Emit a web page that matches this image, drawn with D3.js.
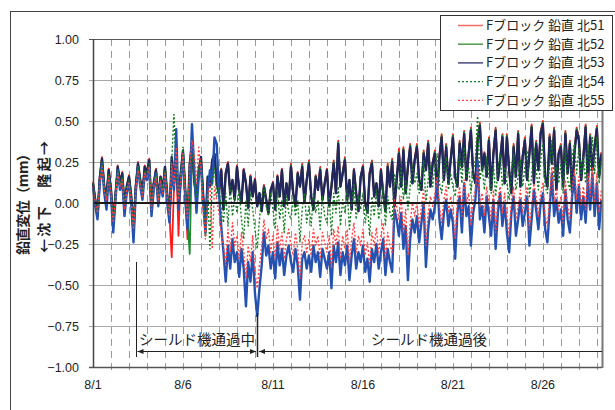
<!DOCTYPE html>
<html>
<head>
<meta charset="utf-8">
<script src="https://cdn.jsdelivr.net/npm/d3@7"></script>
<style>
  body { margin: 0; background: #fff; }
  svg { display: block; font-family: "Liberation Sans", Arial, "Noto Sans CJK JP", sans-serif; }
</style>
</head>
<body>
<svg id="chart" width="615" height="410"></svg>
<script>
// 3-hourly readings starting 8/1 00:00 (one line per day)
var startDate = new Date(2010, 7, 1, 0, 0);
var endDate = new Date(2010, 7, 29, 6, 50);
var stepHours = 3;

var yTicks = [1.00, 0.75, 0.50, 0.25, 0.00, -0.25, -0.50, -0.75, -1.00];
var xLabelDays = [1, 6, 11, 16, 21, 26];

var seriesNames = ["Fブロック 鉛直 北51", "Fブロック 鉛直 北52", "Fブロック 鉛直 北53", "Fブロック 鉛直 北54", "Fブロック 鉛直 北55"];

var north51 = [
  0.13,0.02,-0.08,0.16,0.28,0.10,0.04,0.21,
  0.08,-0.12,0.05,0.23,0.12,0.19,-0.02,0.10,
  0.17,0.04,-0.18,0.10,0.25,0.14,0.06,0.23,
  0.19,0.27,-0.04,0.12,0.21,0.02,0.16,0.08,
  0.22,0.05,-0.08,-0.33,0.10,0.30,-0.20,0.18,
  0.30,0.06,-0.22,0.24,0.34,0.14,0.02,0.20,
  0.28,0.04,-0.14,0.16,0.10,0.26,0.30,0.12,
  0.06,0.21,-0.04,0.19,0.25,0.06,0.14,0.02,
  0.23,0.08,0.00,0.21,0.12,-0.03,0.17,0.04,
  0.15,-0.02,0.06,-0.05,0.11,0.02,-0.06,0.08,
  0.13,-0.04,0.17,0.04,0.21,-0.02,0.12,0.02,
  0.24,0.06,-0.02,0.19,0.10,0.24,0.00,0.14,
  0.26,0.04,-0.04,0.17,0.08,0.22,0.02,0.12,
  0.21,-0.02,0.10,0.26,0.06,0.38,0.10,0.19,
  0.28,0.02,0.14,-0.04,0.21,0.06,-0.05,0.16,
  0.23,0.00,-0.06,0.19,0.26,0.04,0.12,-0.02,
  0.21,0.06,-0.05,0.24,0.10,0.27,-0.02,0.14,
  0.33,0.10,0.34,0.06,0.22,0.36,0.12,0.27,
  0.36,0.14,0.08,0.32,0.20,0.38,0.10,0.25,
  0.32,0.06,0.29,0.42,0.14,0.36,0.12,0.27,
  0.42,0.16,0.10,0.38,0.22,0.44,0.14,0.31,
  0.46,0.18,0.12,0.40,0.49,0.20,0.31,0.16,
  0.40,0.08,0.31,0.46,0.14,0.27,0.42,0.12,
  0.42,0.20,0.06,0.36,0.16,0.44,0.10,0.29,
  0.40,0.14,0.31,0.48,0.12,0.38,0.20,0.44,
  0.50,0.16,0.10,0.42,0.24,0.46,0.08,0.31,
  0.36,0.10,0.44,0.18,0.38,0.06,0.31,0.46,
  0.40,0.14,0.29,0.48,0.12,0.42,0.20,0.36,
  0.47,0.16,0.31
];
var north52 = [
  0.12,0.02,-0.08,0.15,0.27,0.10,0.04,0.20,
  0.08,-0.12,0.05,0.22,0.12,0.18,-0.02,0.10,
  0.16,0.04,-0.18,0.10,0.24,0.14,0.06,0.22,
  0.18,0.26,-0.04,0.12,0.20,0.02,0.16,0.08,
  0.22,0.05,-0.08,0.28,0.12,0.30,0.00,0.18,
  0.32,0.08,-0.10,-0.31,0.34,0.14,0.02,0.20,
  0.26,0.02,-0.20,0.16,0.10,0.26,0.30,0.12,
  0.06,0.20,-0.04,0.18,0.24,0.06,0.14,0.02,
  0.22,0.08,0.00,0.20,0.12,-0.03,0.16,0.04,
  0.14,-0.02,0.06,-0.05,0.10,0.02,-0.06,0.08,
  0.12,-0.04,0.16,0.04,0.20,-0.02,0.12,0.02,
  0.23,0.06,-0.02,0.18,0.10,0.23,0.00,0.14,
  0.25,0.04,-0.04,0.16,0.08,0.21,0.02,0.12,
  0.20,-0.02,0.10,0.25,0.06,0.37,0.10,0.18,
  0.27,0.02,0.14,-0.04,0.20,0.06,-0.05,0.16,
  0.22,0.00,-0.06,0.18,0.25,0.04,0.12,-0.02,
  0.20,0.06,-0.05,0.23,0.10,0.26,-0.02,0.14,
  0.31,0.10,0.33,0.06,0.22,0.35,0.12,0.26,
  0.35,0.14,0.08,0.31,0.20,0.37,0.10,0.24,
  0.31,0.06,0.28,0.41,0.14,0.35,0.12,0.26,
  0.41,0.16,0.10,0.37,0.22,0.43,0.14,0.30,
  0.45,0.18,0.12,0.39,0.48,0.20,0.30,0.16,
  0.39,0.08,0.30,0.45,0.14,0.26,0.41,0.12,
  0.41,0.20,0.06,0.35,0.16,0.43,0.10,0.28,
  0.39,0.14,0.30,0.47,0.12,0.37,0.20,0.43,
  0.49,0.16,0.10,0.41,0.24,0.45,0.08,0.30,
  0.35,0.10,0.43,0.18,0.37,0.06,0.30,0.45,
  0.39,0.14,0.28,0.47,0.12,0.41,0.20,0.35,
  0.46,0.16,0.30
];
var north53 = [
  0.12,0.02,-0.08,0.15,0.27,0.10,0.04,0.20,
  0.08,-0.12,0.05,0.22,0.12,0.18,-0.02,0.10,
  0.16,0.04,-0.18,0.10,0.24,0.14,0.06,0.22,
  0.18,0.26,-0.04,0.12,0.20,0.02,0.16,0.08,
  0.22,0.05,-0.08,0.28,0.12,0.30,0.00,0.18,
  0.32,0.08,-0.10,0.24,0.36,0.14,0.02,0.20,
  0.28,0.04,-0.14,0.16,0.10,0.26,0.30,0.12,
  0.06,0.20,-0.04,0.18,0.24,0.06,0.14,0.02,
  0.22,0.08,0.00,0.20,0.12,-0.03,0.16,0.04,
  0.14,-0.02,0.06,-0.05,0.10,0.02,-0.06,0.08,
  0.12,-0.04,0.16,0.04,0.20,-0.02,0.12,0.02,
  0.22,0.06,-0.02,0.18,0.10,0.22,0.00,0.14,
  0.24,0.04,-0.04,0.16,0.08,0.20,0.02,0.12,
  0.20,-0.02,0.10,0.24,0.06,0.36,0.10,0.18,
  0.26,0.02,0.14,-0.04,0.20,0.06,-0.05,0.16,
  0.22,0.00,-0.06,0.18,0.24,0.04,0.12,-0.02,
  0.20,0.06,-0.05,0.22,0.10,0.25,-0.02,0.14,
  0.30,0.10,0.32,0.06,0.22,0.34,0.12,0.26,
  0.34,0.14,0.08,0.30,0.20,0.36,0.10,0.24,
  0.30,0.06,0.28,0.40,0.14,0.34,0.12,0.26,
  0.40,0.16,0.10,0.36,0.22,0.42,0.14,0.30,
  0.44,0.18,0.12,0.38,0.47,0.20,0.30,0.16,
  0.38,0.08,0.30,0.44,0.14,0.26,0.40,0.12,
  0.40,0.20,0.06,0.34,0.16,0.42,0.10,0.28,
  0.38,0.14,0.30,0.46,0.12,0.36,0.20,0.42,
  0.48,0.16,0.10,0.40,0.24,0.44,0.08,0.30,
  0.34,0.10,0.42,0.18,0.36,0.06,0.30,0.44,
  0.38,0.14,0.28,0.46,0.12,0.40,0.20,0.34,
  0.45,0.16,0.30
];
var north54 = [
  0.12,0.02,-0.06,0.14,0.25,0.10,0.04,0.18,
  0.08,-0.10,0.06,0.20,0.12,0.16,0.00,0.10,
  0.14,0.04,-0.14,0.10,0.22,0.14,0.06,0.20,
  0.18,0.24,-0.02,0.12,0.18,0.02,0.16,0.08,
  0.20,0.06,-0.06,0.26,0.54,0.20,0.04,0.16,
  0.34,0.10,-0.06,0.24,0.30,0.14,0.04,0.22,
  0.26,0.02,-0.16,0.08,-0.28,0.14,0.22,0.04,
  0.10,-0.04,-0.12,0.06,-0.14,0.10,-0.08,0.04,
  -0.06,0.08,-0.10,-0.22,0.02,-0.14,0.06,-0.04,
  -0.16,-0.28,-0.10,0.04,0.10,-0.02,-0.08,0.06,
  -0.04,-0.16,0.08,-0.10,0.02,-0.18,0.04,-0.06,
  -0.10,0.04,-0.08,0.02,-0.24,-0.04,0.06,-0.12,
  -0.02,-0.14,0.06,-0.06,0.02,-0.16,0.04,-0.08,
  -0.12,0.04,-0.20,0.06,-0.06,0.10,-0.14,0.02,
  -0.06,0.08,-0.16,0.00,0.12,-0.10,0.04,-0.04,
  0.06,-0.12,-0.02,-0.20,0.04,-0.08,0.08,-0.10,
  -0.02,0.10,-0.14,0.04,-0.06,-0.10,0.18,0.12,
  0.08,0.22,0.02,0.14,-0.04,0.10,0.24,0.12,
  0.18,0.06,0.16,0.26,0.00,0.14,0.22,0.10,
  0.22,0.30,0.12,0.06,0.20,0.28,0.08,0.18,
  0.10,0.04,0.20,0.30,0.12,0.34,0.16,0.22,
  0.06,0.20,0.26,0.53,0.14,0.22,0.08,0.28,
  0.16,0.06,0.24,0.04,0.20,0.30,0.10,0.22,
  0.12,0.02,0.18,0.30,0.08,0.16,0.26,0.10,
  0.22,0.32,0.04,0.16,0.34,0.20,0.08,0.26,
  0.36,0.10,0.06,0.24,0.38,0.14,0.22,0.12,
  0.24,0.06,0.34,0.14,0.08,0.28,0.36,0.18,
  0.34,0.16,0.28,0.12,0.36,0.20,0.40,0.18,
  0.40,0.12,0.26
];
var north55 = [
  0.10,0.00,-0.06,0.12,0.22,0.08,0.02,0.16,
  0.06,-0.12,0.04,0.18,0.10,0.14,-0.04,0.08,
  0.12,0.02,-0.16,0.08,0.20,0.12,0.04,0.18,
  0.16,0.22,-0.04,0.10,0.16,0.00,0.14,0.06,
  0.18,0.04,-0.08,0.24,0.10,0.34,0.02,0.14,
  0.30,0.06,-0.10,0.22,0.38,0.30,0.12,0.34,
  0.20,-0.06,-0.22,0.04,0.12,-0.28,0.10,0.02,
  -0.06,-0.18,-0.26,-0.38,-0.16,-0.30,-0.12,-0.26,
  -0.20,-0.34,-0.18,-0.30,-0.46,-0.26,-0.36,-0.20,
  -0.42,-0.52,-0.38,-0.26,-0.10,-0.22,-0.16,-0.30,
  -0.20,-0.34,-0.14,-0.28,-0.18,-0.34,-0.22,-0.16,
  -0.26,-0.32,-0.18,-0.28,-0.46,-0.24,-0.20,-0.30,
  -0.22,-0.32,-0.16,-0.26,-0.20,-0.34,-0.18,-0.24,
  -0.30,-0.20,-0.40,-0.16,-0.26,-0.14,-0.34,-0.20,
  -0.28,-0.16,-0.36,-0.22,-0.12,-0.30,-0.20,-0.26,
  -0.16,-0.32,-0.24,-0.38,-0.18,-0.26,-0.15,-0.30,
  -0.20,-0.12,-0.34,-0.18,-0.26,-0.30,0.02,-0.02,
  -0.10,0.04,-0.18,-0.04,-0.32,-0.12,0.00,-0.08,
  0.00,-0.14,-0.02,0.08,-0.26,-0.06,0.04,-0.02,
  0.06,0.16,-0.02,-0.12,0.02,0.10,-0.06,0.04,
  -0.04,-0.22,0.02,0.10,-0.08,0.14,0.00,0.06,
  -0.14,0.02,0.08,0.22,-0.02,0.06,-0.08,0.10,
  0.00,-0.10,0.08,-0.18,0.02,0.10,-0.06,0.06,
  -0.08,-0.20,0.02,0.10,-0.10,-0.02,0.08,-0.06,
  0.02,0.10,-0.16,-0.02,0.12,0.04,-0.08,0.06,
  0.12,-0.08,-0.14,0.04,0.22,0.00,0.08,-0.04,
  0.04,-0.12,0.14,-0.02,-0.10,0.10,0.20,0.02,
  0.16,-0.02,0.10,-0.04,0.18,0.04,0.22,0.00,
  0.18,-0.06,0.08
];
// the bright blue trace drawn in the plot but not listed in the legend
var blueTrace = [
  0.10,-0.02,-0.10,0.12,0.24,0.06,-0.04,0.16,
  0.04,-0.18,0.02,0.20,0.08,0.14,-0.08,0.06,
  0.12,0.00,-0.24,0.06,0.22,0.10,0.02,0.18,
  0.14,0.22,-0.08,0.08,0.18,-0.02,0.12,0.04,
  0.18,0.00,-0.12,0.20,0.08,0.45,-0.04,0.12,
  0.30,0.02,-0.16,0.10,0.48,0.20,-0.06,0.16,
  0.24,0.00,-0.18,0.08,0.20,0.12,0.40,0.36,
  0.06,-0.14,-0.30,-0.48,-0.26,-0.40,-0.22,-0.36,
  -0.30,-0.45,-0.28,-0.40,-0.63,-0.36,-0.48,-0.30,
  -0.55,-0.69,-0.52,-0.38,-0.18,-0.32,-0.26,-0.40,
  -0.30,-0.46,-0.24,-0.38,-0.28,-0.44,-0.32,-0.26,
  -0.36,-0.42,-0.28,-0.38,-0.59,-0.34,-0.30,-0.40,
  -0.32,-0.42,-0.26,-0.36,-0.30,-0.45,-0.28,-0.34,
  -0.40,-0.30,-0.52,-0.26,-0.36,-0.24,-0.44,-0.30,
  -0.38,-0.26,-0.47,-0.32,-0.22,-0.40,-0.30,-0.36,
  -0.26,-0.42,-0.34,-0.48,-0.28,-0.36,-0.25,-0.40,
  -0.30,-0.22,-0.44,-0.28,-0.36,-0.42,-0.04,-0.10,
  -0.20,-0.06,-0.28,-0.14,-0.47,-0.22,-0.10,-0.18,
  -0.08,-0.24,-0.12,0.00,-0.39,-0.16,-0.04,-0.10,
  -0.02,0.14,-0.10,-0.22,-0.06,0.02,-0.14,-0.04,
  -0.12,-0.34,-0.06,0.04,-0.18,0.12,-0.08,-0.02,
  -0.26,-0.06,0.02,0.26,-0.10,-0.02,-0.18,0.04,
  -0.08,-0.20,0.02,-0.28,-0.06,0.06,-0.14,0.00,
  -0.18,-0.30,-0.06,0.04,-0.20,-0.10,0.02,-0.14,
  -0.06,0.04,-0.26,-0.10,0.08,-0.04,-0.16,0.00,
  0.06,-0.16,-0.24,-0.04,0.18,-0.08,0.02,-0.12,
  -0.04,-0.20,0.08,-0.10,-0.18,0.04,0.16,-0.06,
  0.10,-0.10,0.04,-0.12,0.14,-0.04,0.18,-0.08,
  0.12,-0.16,0.02
];

// shield machine passage (start / end)
var passStart = new Date(2010, 7, 3, 9, 0);
var passEnd = new Date(2010, 7, 10, 3, 0);

var svg = d3.select("#chart");

// outer frame
svg.append("rect")
    .attr("x", 10.5).attr("y", 11.5)
    .attr("width", 640).attr("height", 440)
    .attr("fill", "none").attr("stroke", "#444").attr("stroke-width", 1);

var plotLeft = 93, plotRight = 602, plotTop = 39, plotBottom = 367;

var x = d3.scaleTime().domain([startDate, endDate]).range([plotLeft, plotRight]);
var y = d3.scaleLinear().domain([-1, 1]).range([plotBottom, plotTop]);

function dateOf(i) { return d3.timeHour.offset(startDate, i * stepHours); }

// vertical dashed day lines
var days = d3.timeDay.range(d3.timeDay.offset(startDate, 1), endDate);
svg.append("g").selectAll("line")
    .data(days)
    .join("line")
      .attr("x1", function(d) { return Math.round(x(d)) + 0.5; })
      .attr("x2", function(d) { return Math.round(x(d)) + 0.5; })
      .attr("y1", plotTop).attr("y2", plotBottom + 4)
      .attr("stroke", "#9a9a9a").attr("stroke-width", 1)
      .attr("stroke-dasharray", "7,5");

// horizontal grid
svg.append("g").selectAll("line")
    .data(yTicks.filter(function(t) { return t !== 0; }))
    .join("line")
      .attr("x1", plotLeft - 4).attr("x2", plotRight)
      .attr("y1", function(d) { return Math.round(y(d)) + 0.5; })
      .attr("y2", function(d) { return Math.round(y(d)) + 0.5; })
      .attr("stroke", function(d) { return (d === 1 || d === -1) ? "#555" : "#a8a8a8"; })
      .attr("stroke-width", function(d) { return (d === -1) ? 1.5 : 1.2; });

// y axis labels
svg.append("g").selectAll("text")
    .data(yTicks)
    .join("text")
      .attr("x", 79).attr("y", function(d) { return y(d) + 4.5; })
      .attr("text-anchor", "end")
      .attr("font-size", 12.5).attr("fill", "#222")
      .text(function(d) { return d3.format(".2f")(d).replace("-", "\u2212"); });

// x axis labels
svg.append("g").selectAll("text")
    .data(xLabelDays)
    .join("text")
      .attr("x", function(d) { return x(new Date(2010, 7, d)); })
      .attr("y", 389)
      .attr("text-anchor", "middle")
      .attr("font-size", 12.5).attr("fill", "#222")
      .text(function(d) { return "8/" + d; });

// series lines
var series = [
  { values: north51, color: "#ff1a1a", width: 1.8, dash: null },
  { values: north52, color: "#1e8a2e", width: 1.8, dash: null },
  { values: north53, color: "#22285e", width: 2.4, dash: null },
  { values: blueTrace, color: "#2552b0", width: 2.4, dash: null },
  { values: north54, color: "#137a1e", width: 1.4, dash: "2,2" },
  { values: north55, color: "#ff4040", width: 1.4, dash: "2,2" }
];

var line = d3.line()
    .x(function(d, i) { return x(dateOf(i)); })
    .y(function(d) { return y(d); });

svg.append("g").selectAll("path")
    .data(series)
    .join("path")
      .attr("d", function(d) { return line(d.values); })
      .attr("fill", "none")
      .attr("stroke", function(d) { return d.color; })
      .attr("stroke-width", function(d) { return d.width; })
      .attr("stroke-dasharray", function(d) { return d.dash; })
      .attr("stroke-linejoin", "round");

// zero line
svg.append("line").attr("x1", plotLeft).attr("x2", plotRight)
    .attr("y1", y(0)).attr("y2", y(0))
    .attr("stroke", "#1a1a1a").attr("stroke-width", 2);

// plot borders
svg.append("line").attr("x1", plotLeft + 0.5).attr("x2", plotLeft + 0.5).attr("y1", plotTop).attr("y2", plotBottom + 1)
    .attr("stroke", "#444").attr("stroke-width", 1.5);
svg.append("line").attr("x1", plotRight + 0.5).attr("x2", plotRight + 0.5).attr("y1", plotTop).attr("y2", plotBottom + 1)
    .attr("stroke", "#777").attr("stroke-width", 2);

// annotations: passage period
var defs = svg.append("defs");
defs.append("marker").attr("id", "arr")
    .attr("viewBox", "0 0 10 10").attr("refX", 10).attr("refY", 5)
    .attr("markerWidth", 7).attr("markerHeight", 6).attr("orient", "auto-start-reverse")
  .append("path").attr("d", "M0,1 L10,5 L0,9 Z").attr("fill", "#222");

var xs = Math.round(x(passStart)) + 0.5, xe = Math.round(x(passEnd)) + 0.5;
svg.append("line").attr("x1", xs).attr("x2", xs).attr("y1", 262).attr("y2", 357)
    .attr("stroke", "#222").attr("stroke-width", 1);
svg.append("line").attr("x1", xe).attr("x2", xe).attr("y1", 313).attr("y2", 357)
    .attr("stroke", "#222").attr("stroke-width", 1.5);
svg.append("line").attr("x1", xs + 1).attr("x2", xe - 1.5).attr("y1", 351.5).attr("y2", 351.5)
    .attr("stroke", "#222").attr("stroke-width", 1)
    .attr("marker-start", "url(#arr)").attr("marker-end", "url(#arr)");
svg.append("line").attr("x1", xe + 1.5).attr("x2", plotRight).attr("y1", 351.5).attr("y2", 351.5)
    .attr("stroke", "#222").attr("stroke-width", 1)
    .attr("marker-start", "url(#arr)");

svg.append("text").attr("x", (xs + xe) / 2).attr("y", 345)
    .attr("text-anchor", "middle").attr("font-size", 14.5).attr("fill", "#222")
    .attr("font-family", "'Noto Sans CJK JP', sans-serif")
    .text("シールド機通過中");
svg.append("text").attr("x", 429).attr("y", 345)
    .attr("text-anchor", "middle").attr("font-size", 14.5).attr("fill", "#222")
    .attr("font-family", "'Noto Sans CJK JP', sans-serif")
    .text("シールド機通過後");

// y axis title (two columns)
svg.append("text")
    .attr("transform", "translate(28,201) rotate(-90)")
    .attr("text-anchor", "middle").attr("font-size", 14).attr("font-weight", "bold")
    .attr("font-family", "'Noto Sans CJK JP', sans-serif").attr("fill", "#222")
    .attr("textLength", 108).attr("lengthAdjust", "spacing")
    .text("鉛直変位（mm）");
svg.append("text")
    .attr("transform", "translate(49,197) rotate(-90)")
    .attr("text-anchor", "middle").attr("font-size", 14).attr("font-weight", "bold")
    .attr("font-family", "'Noto Sans CJK JP', sans-serif").attr("fill", "#222")
    .attr("textLength", 112).attr("lengthAdjust", "spacing")
    .text("←沈下　隆起→");

// legend
var legendColors = ["#f06a6a", "#4f9a4f", "#4a4a80", "#137a1e", "#ff4040"];
var legendDash = [null, null, null, "2,2", "2,2"];
var legend = svg.append("g");
legend.append("rect").attr("x", 440.5).attr("y", 15.5).attr("width", 172).attr("height", 95)
    .attr("fill", "#fff").attr("stroke", "#333").attr("stroke-width", 1);
var items = legend.selectAll("g.item")
    .data(seriesNames)
    .join("g")
      .attr("class", "item")
      .attr("transform", function(d, i) { return "translate(0," + (25.5 + i * 18.7) + ")"; });
items.append("line").attr("x1", 458).attr("x2", 483).attr("y1", 0).attr("y2", 0)
    .attr("stroke", function(d, i) { return legendColors[i]; })
    .attr("stroke-width", function(d, i) { return i < 3 ? 1.5 : 1.2; })
    .attr("stroke-dasharray", function(d, i) { return legendDash[i]; });
items.append("text").attr("x", 486).attr("y", 4.5)
    .attr("font-size", 13).attr("fill", "#222")
    .attr("font-family", "'Noto Sans CJK JP', sans-serif")
    .text(function(d) { return d; });
</script>
</body>
</html>
